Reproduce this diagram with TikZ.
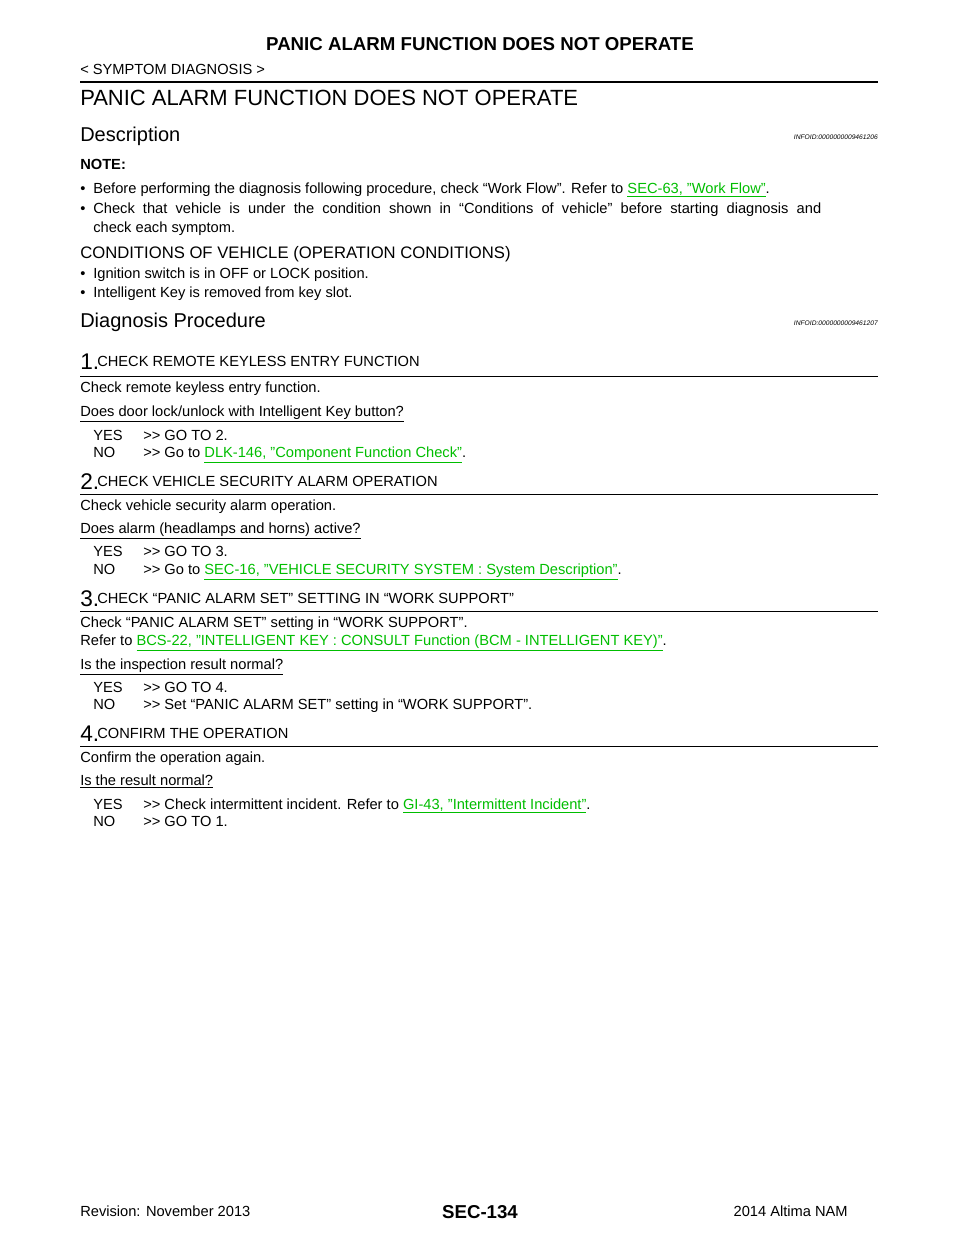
\documentclass[tikz,border=0pt]{standalone}
\usepackage{fontspec}
\setmainfont{Liberation Sans}
\definecolor{linkgreen}{RGB}{0,190,0}
\newcommand{\lnk}[1]{\textcolor{linkgreen}{\underline{#1}}}
\newcommand{\gogo}{>\kern0pt>}
\begin{document}
\begin{tikzpicture}[x=0.75pt,y=-0.75pt,
  txt/.style={anchor=base west,inner sep=0pt,font=\fontsize{11}{13}\selectfont},
  head/.style={anchor=base west,inner sep=0pt,font=\fontsize{12.5}{15}\selectfont},
  big/.style={anchor=base west,inner sep=0pt,font=\fontsize{15}{18}\selectfont},
  num/.style={anchor=base west,inner sep=0pt,font=\fontsize{17}{20}\selectfont},
  info/.style={anchor=base east,inner sep=0pt,font=\fontsize{5}{6}\selectfont\itshape},
  rule/.style={line width=0.6pt}]
\useasboundingbox[fill=white] (0,0) rectangle (960,1242);
% page head
\node[anchor=base,inner sep=0pt,font=\fontsize{14}{17}\selectfont\bfseries] (title) at (480,50) {PANIC ALARM FUNCTION DOES NOT OPERATE};
\node[txt] (sect) at (80,74) {< SYMPTOM DIAGNOSIS >};
\draw[line width=1.6pt] (80,82) -- (878,82);
\node[anchor=base west,inner sep=0pt,font=\fontsize{16.5}{20}\selectfont] (main) at (80,105) {PANIC ALARM FUNCTION DOES NOT OPERATE};
% description
\node[big] (desc) at (80,141) {Description};
\node[info] (id1) at (878,139) {INFOID:0000000009461206};
\node[txt,font=\fontsize{11}{13}\selectfont\bfseries] (note) at (80,169) {NOTE:};
\node[txt] (b1) at (80,193) {•};
\node[txt] (n1) at (93,193) {Before performing the diagnosis following procedure, check “Work Flow”. Refer to \lnk{SEC-63, "Work Flow"}.};
\node[txt] (b2) at (80,213) {•};
\node[txt] (n2) at (93,213) {Check\ \ that\ \ vehicle\ \ is\ \ under\ \ the\ \ condition\ \ shown\ \ in\ \ “Conditions\ \ of\ \ vehicle”\ \ before\ \ starting\ \ diagnosis\ \ and};
\node[txt] (n3) at (93,232) {check each symptom.};
\node[head] (cond) at (80,258) {CONDITIONS OF VEHICLE (OPERATION CONDITIONS)};
\node[txt] (b3) at (80,278) {•};
\node[txt] (c1) at (93,278) {Ignition switch is in OFF or LOCK position.};
\node[txt] (b4) at (80,297) {•};
\node[txt] (c2) at (93,297) {Intelligent Key is removed from key slot.};
% procedure
\node[big] (diag) at (80,327) {Diagnosis Procedure};
\node[info] (id2) at (878,325) {INFOID:0000000009461207};
% step 1
\node[num] (s1) at (80,369) {1.};
\node[txt] (h1) at (97,366) {CHECK REMOTE KEYLESS ENTRY FUNCTION};
\draw[rule] (80,376) -- (878,376);
\node[txt] (t1) at (80,392) {Check remote keyless entry function.};
\node[txt] (q1) at (80,416) {\underline{Does door lock/unlock with Intelligent Key button?}};
\node[txt] (y1) at (93,440) {YES};
\node[txt] (y1a) at (143,440) {\gogo{} GO TO 2.};
\node[txt] (o1) at (93,457) {NO};
\node[txt] (o1a) at (143,457) {\gogo{} Go to \lnk{DLK-146, "Component Function Check"}.};
% step 2
\node[num] (s2) at (80,489) {2.};
\node[txt] (h2) at (97,486) {CHECK VEHICLE SECURITY ALARM OPERATION};
\draw[rule] (80,494) -- (878,494);
\node[txt] (t2) at (80,510) {Check vehicle security alarm operation.};
\node[txt] (q2) at (80,533) {\underline{Does alarm (headlamps and horns) active?}};
\node[txt] (y2) at (93,556) {YES};
\node[txt] (y2a) at (143,556) {\gogo{} GO TO 3.};
\node[txt] (o2) at (93,574) {NO};
\node[txt] (o2a) at (143,574) {\gogo{} Go to \lnk{SEC-16, "VEHICLE SECURITY SYSTEM : System Description"}.};
% step 3
\node[num] (s3) at (80,606) {3.};
\node[txt] (h3) at (97,603) {CHECK “PANIC ALARM SET” SETTING IN “WORK SUPPORT”};
\draw[rule] (80,611) -- (878,611);
\node[txt] (t3) at (80,627) {Check “PANIC ALARM SET” setting in “WORK SUPPORT”.};
\node[txt] (t3b) at (80,645) {Refer to \lnk{BCS-22, "INTELLIGENT KEY : CONSULT Function (BCM - INTELLIGENT KEY)"}.};
\node[txt] (q3) at (80,669) {\underline{Is the inspection result normal?}};
\node[txt] (y3) at (93,692) {YES};
\node[txt] (y3a) at (143,692) {\gogo{} GO TO 4.};
\node[txt] (o3) at (93,709) {NO};
\node[txt] (o3a) at (143,709) {\gogo{} Set “PANIC ALARM SET” setting in “WORK SUPPORT”.};
% step 4
\node[num] (s4) at (80,741) {4.};
\node[txt] (h4) at (97,738) {CONFIRM THE OPERATION};
\draw[rule] (80,746) -- (878,746);
\node[txt] (t4) at (80,762) {Confirm the operation again.};
\node[txt] (q4) at (80,785) {\underline{Is the result normal?}};
\node[txt] (y4) at (93,809) {YES};
\node[txt] (y4a) at (143,809) {\gogo{} Check intermittent incident. Refer to \lnk{GI-43, "Intermittent Incident"}.};
\node[txt] (o4) at (93,826) {NO};
\node[txt] (o4a) at (143,826) {\gogo{} GO TO 1.};
% footer
\node[txt] (rev) at (80,1216) {Revision: November 2013};
\node[anchor=base,inner sep=0pt,font=\fontsize{14}{17}\selectfont\bfseries] (page) at (480,1218) {SEC-134};
\node[anchor=base east,inner sep=0pt,font=\fontsize{11}{13}\selectfont] (car) at (848,1216) {2014 Altima NAM};
\end{tikzpicture}
\end{document}
